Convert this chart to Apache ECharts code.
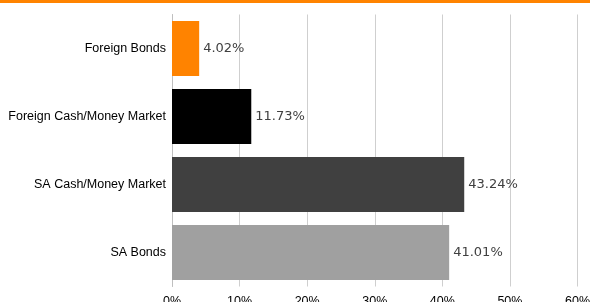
<!DOCTYPE html>
<html><head><meta charset="utf-8">
<script src="https://cdn.jsdelivr.net/npm/echarts@6/dist/echarts.min.js"></script>
<style>html,body{margin:0;padding:0;background:#fff}#c{width:590px;height:302px}</style>
</head><body><div id="c"></div>
<script>
var categories = ['SA Bonds', 'SA Cash/Money Market', 'Foreign Cash/Money Market', 'Foreign Bonds'];
var values = [41.01, 43.24, 11.73, 4.02];
var colors = ['#a0a0a0', '#404040', '#000000', '#ff8300'];
var tickLabels = ['0%', '10%', '20%', '30%', '40%', '50%', '60%'];

var chart = echarts.init(document.getElementById('c'), null, {renderer: 'canvas'});
chart.setOption({
  animation: false,
  graphic: [{type: 'rect', left: 0, top: 0, shape: {width: 590, height: 3}, style: {fill: '#ff8300'}}],
  grid: {left: 172, right: 12.5, top: 14.5, bottom: 15.5, containLabel: false, outerBoundsMode: 'none'},
  xAxis: {
    type: 'value', min: 0, max: 60, interval: 10,
    axisLine: {show: false},
    axisTick: {show: false},
    splitLine: {show: true, lineStyle: {color: '#cfcfcf', width: 1}},
    axisLabel: {
      color: '#000', fontSize: 12.5, fontFamily: 'Liberation Sans, Arial', margin: 9,
      formatter: function (v) { return tickLabels[Math.round(v / 10)]; }
    }
  },
  yAxis: {
    type: 'category', data: categories,
    axisLine: {show: true, lineStyle: {color: '#bfbfbf'}},
    axisTick: {show: false},
    axisLabel: {color: '#000', fontSize: 12.5, fontFamily: 'Liberation Sans, Arial', margin: 6}
  },
  series: [{
    type: 'bar',
    data: values.map(function (v, i) { return {value: v, itemStyle: {color: colors[i]}}; }),
    barCategoryGap: '19%',
    label: {
      show: true, position: 'right', distance: 4,
      color: '#404040', fontSize: 13, fontFamily: 'DejaVu Sans, Liberation Sans',
      formatter: function (p) { return p.value.toFixed(2) + '%'; }
    }
  }]
});
</script></body></html>
